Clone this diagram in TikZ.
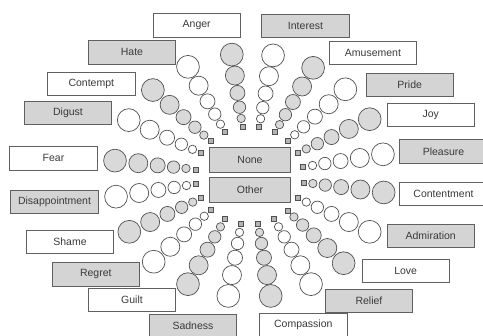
\documentclass[tikz,border=0pt]{standalone}
\usepackage{fontspec}
\setmainfont{Liberation Sans}
\definecolor{ringline}{HTML}{505050}
\definecolor{boxline}{HTML}{606060}
\definecolor{boxgray}{HTML}{D4D4D4}
\definecolor{bubgray}{HTML}{D9D9D9}
\definecolor{sqgray}{HTML}{B4B4B4}
\definecolor{labtext}{HTML}{3A3A3A}
\begin{document}
\begin{tikzpicture}[x=1pt,y=-1pt,
  lab/.style={draw=boxline, line width=0.8pt, minimum width=87.5pt,
    minimum height=23.5pt, inner sep=0pt,
    font=\fontsize{10.5}{12}\selectfont, text=labtext},
  labw/.style={lab, fill=white},
  labg/.style={lab, fill=boxgray},
  mid/.style={labg, minimum width=81.4pt, minimum height=25.4pt},
  bub/.style={circle, draw=ringline, line width=0.7pt, inner sep=0pt},
  sq/.style={rectangle, draw=ringline, fill=sqgray, line width=0.6pt,
    minimum size=5pt, inner sep=0pt},
]
\useasboundingbox (0,0) rectangle (483,336);
\clip (0,0) rectangle (483,336);

% centre of the wheel: (249.5,175.5), vertical axis squeezed by 0.9
% each spoke: a small square, then five circles growing outwards
\foreach \k/\a/\f in {
  0/10/white, 1/27.5/bubgray, 2/45/white, 3/62/bubgray, 4/80/white,
  5/97.5/bubgray, 6/117/white, 7/135.5/bubgray, 8/153/white, 9/173/bubgray,
  10/190/white, 11/207.5/bubgray, 12/225/white, 13/243/bubgray, 14/261/white,
  15/279/bubgray, 16/297/white, 17/314/bubgray, 18/332.5/white, 19/352/bubgray}{
  \node[sq] (s\k) at ({249.5+54.5*cos(\a)},{175.5-0.9*54.5*sin(\a)}) {};
  \foreach \i/\r/\d in {1/64/8.4, 2/76.5/12.4, 3/92.5/15, 4/112/19, 5/135.5/22.8}{
    \node[bub, fill=\f, minimum size=\d pt] (c\k-\i)
      at ({249.5+\r*cos(\a)},{175.5-0.9*\r*sin(\a)}) {};
  }
}

% centre boxes
\node[mid] (none) at (250,160) {None};
\node[mid] (other) at (250,190) {Other};

% emotion labels
\node[labw] (anger)       at (196.7,25.3)  {Anger};
\node[labg] (interest)    at (305.5,25.7)  {Interest};
\node[labg] (hate)        at (132,52.3)    {Hate};
\node[labw] (amusement)   at (373,52.7)    {Amusement};
\node[labw] (contempt)    at (91.3,84)     {Contempt};
\node[labg] (pride)       at (409.7,84.7)  {Pride};
\node[labg] (disgust)     at (68,112.7)    {Digust};
\node[labw] (joy)         at (430.7,114.7) {Joy};
\node[labw] (fear)        at (53.5,158.3)  {Fear};
\node[labg] (pleasure)    at (443.5,151.3) {Pleasure};
\node[labg] (disappoint)  at (54.5,201.7)  {Disappointment};
\node[labw] (contentment) at (443.5,193.7) {Contentment};
\node[labw] (shame)       at (70,241.7)    {Shame};
\node[labg] (admiration)  at (430.7,236)   {Admiration};
\node[labg] (regret)      at (95.8,274.3)  {Regret};
\node[labw] (love)        at (405.7,271)   {Love};
\node[labw] (guilt)       at (132,300)     {Guilt};
\node[labg] (relief)      at (369,300.7)   {Relief};
\node[labg] (sadness)     at (193,325.7)   {Sadness};
\node[labw] (compassion)  at (303.3,324.8) {Compassion};
\end{tikzpicture}
\end{document}
